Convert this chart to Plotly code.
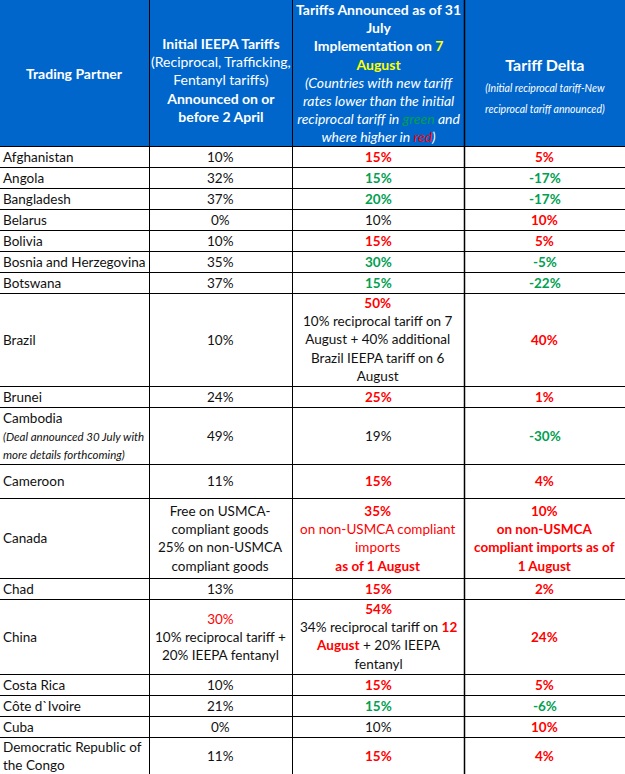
import plotly.graph_objects as go

# Colours and font
BLUE = "#0066CC"
RED = "#FF0000"
GREEN = "#00A050"
INK = "#111111"
YELLOW = "#FFFF00"
FONT = "Lato"

# Data (one entry per trading partner)
partners = [
    "Afghanistan", "Angola", "Bangladesh", "Belarus", "Bolivia",
    "Bosnia and Herzegovina", "Botswana", "Brazil", "Brunei", "Cambodia",
    "Cameroon", "Canada", "Chad", "China", "Costa Rica", "Côte d`Ivoire",
    "Cuba", "Democratic Republic of the Congo",
]
initial_tariff = ["10%", "32%", "37%", "0%", "10%", "35%", "37%", "10%", "24%",
                  "49%", "11%", None, "13%", "30%", "10%", "21%", "0%", "11%"]
new_tariff = ["15%", "15%", "20%", "10%", "15%", "30%", "15%", "50%", "25%",
              "19%", "15%", "35%", "15%", "54%", "15%", "15%", "10%", "15%"]
tariff_delta = ["5%", "-17%", "-17%", "10%", "5%", "-5%", "-22%", "40%", "1%",
                "-30%", "4%", "10%", "2%", "24%", "5%", "-6%", "10%", "4%"]

# Partners whose new tariff is printed uncoloured in the source table
uncoloured_new = {"Belarus", "Cambodia", "Cuba"}

# Extra explanatory lines
partner_lines = {
    "Cambodia": ["Cambodia", "(Deal announced 30 July with", "more details forthcoming)"],
    "Democratic Republic of the Congo": ["Democratic Republic of", "the Congo"],
}
initial_notes = {
    "Canada": ["Free on USMCA-", "compliant goods", "25% on non-USMCA", "compliant goods"],
    "China": ["10% reciprocal tariff +", "20% IEEPA fentanyl"],
}
new_notes = {
    "Brazil": ["10% reciprocal tariff on 7", "August + 40% additional",
               "Brazil IEEPA tariff on 6", "August"],
    "Canada": ["on non-USMCA compliant", "imports", "as of 1 August"],
    "China": ["34% reciprocal tariff on 12", "August + 20% IEEPA", "fentanyl"],
}
delta_notes = {"Canada": ["on non-USMCA", "compliant imports as of", "1 August"]}

# Layout
COL_W = [149, 143, 172, 161]
HEADER_H = 146
LINE_H = 14 * 1.3
ROW_MIN = 21
ROW_EXTRA = {"Cameroon": 13, "Canada": 5}
BODY_SIZE = 13.5
W, H = 625, 774


def span(text, color=None, bold=False, italic=False, size=None):
    style = []
    if color:
        style.append("color:" + color)
    if size:
        style.append("font-size:%spx" % size)
    s = "<span style='%s'>%s</span>" % (";".join(style), text) if style else text
    if bold:
        s = "<b>" + s + "</b>"
    if italic:
        s = "<i>" + s + "</i>"
    return s


def pct(s):
    return int(s.replace("%", ""))


rows = []
for i, name in enumerate(partners):
    c1 = partner_lines.get(name, [name])
    if name == "Cambodia":
        c1 = [c1[0]] + [span(t, italic=True, size=11.5) for t in c1[1:]]

    c2 = ([span(initial_tariff[i], RED if name == "China" else None)] if initial_tariff[i] else [])
    c2 += initial_notes.get(name, [])

    tone = RED if pct(tariff_delta[i]) > 0 else GREEN
    if name in uncoloured_new:
        c3 = [new_tariff[i]]
    else:
        c3 = [span(new_tariff[i], tone, bold=True)]
    for t in new_notes.get(name, []):
        if name == "Canada":
            c3.append(span(t, RED, bold=t.startswith("as of")))
        elif name == "China":
            t = t.replace("12", span("12", RED, bold=True)).replace("August", span("August", RED, bold=True))
            c3.append(t)
        else:
            c3.append(t)

    c4 = [span(t, tone, bold=True) for t in [tariff_delta[i]] + delta_notes.get(name, [])]
    rows.append((name, [c1, c2, c3, c4]))

edges = [0]
for w in COL_W:
    edges.append(edges[-1] + w)

header = [
    ["<b>Trading Partner</b>"],
    ["<b>Initial IEEPA Tariffs</b>", "(Reciprocal, Trafficking,", "Fentanyl tariffs)",
     "<b>Announced on or</b>", "<b>before 2 April</b>"],
    ["<b>Tariffs Announced as of 31</b>", "<b>July</b>",
     "<b>Implementation on " + span("7", YELLOW) + "</b>", span("August", YELLOW, bold=True),
     "<i>(Countries with new tariff</i>", "<i>rates lower than the initial</i>",
     "<i>reciprocal tariff in " + span("green", GREEN) + " and</i>",
     "<i>where higher in " + span("red", RED) + ")</i>"],
    ["<b>Tariff Delta</b>", span("(Initial reciprocal tariff-New", italic=True, size=10.5),
     span("reciprocal tariff announced)", italic=True, size=10.5)],
]
header_y = [0.50, 0.55, 0.50, 0.58]
header_size = [14, 14, 14, 16]

fig = go.Figure()
shapes, annotations = [], []

# header
shapes.append(dict(type="rect", x0=0, x1=W, y0=0, y1=HEADER_H, fillcolor=BLUE, line_width=0, layer="below"))
for c in range(4):
    annotations.append(dict(
        x=(edges[c] + edges[c + 1]) / 2, y=HEADER_H * header_y[c],
        text="<br>".join(header[c]), showarrow=False, align="center",
        xanchor="center", yanchor="middle",
        font=dict(family=FONT, size=header_size[c], color="white"),
    ))

# body
top = HEADER_H
bounds = [HEADER_H]
for name, cells in rows:
    n = max(len(cell) for cell in cells)
    h = round(max(ROW_MIN, LINE_H * n + 2) + ROW_EXTRA.get(name, 0))
    for c, cell in enumerate(cells):
        left = c == 0
        annotations.append(dict(
            x=edges[c] + 1 if left else (edges[c] + edges[c + 1]) / 2,
            y=top + h / 2,
            text="<br>".join(span(t, size=BODY_SIZE) for t in cell), showarrow=False,
            align="left" if left else "center",
            xanchor="left" if left else "center", yanchor="middle",
            font=dict(family=FONT, size=14, color=INK),
        ))
    top += h
    bounds.append(top)

# grid lines
for b in bounds:
    shapes.append(dict(type="line", x0=0, x1=W, y0=b + 0.5, y1=b + 0.5,
                       line=dict(color="black", width=1)))
for c in range(1, 4):
    shapes.append(dict(type="line", x0=edges[c] + 0.5, x1=edges[c] + 0.5, y0=0, y1=max(top, H),
                       line=dict(color="black", width=1.5 if c == 3 else 1)))

fig.update_layout(
    width=W, height=H,
    margin=dict(l=0, r=0, t=0, b=0),
    paper_bgcolor="white", plot_bgcolor="white",
    xaxis=dict(range=[0, W], visible=False, fixedrange=True),
    yaxis=dict(range=[H, 0], visible=False, fixedrange=True),
    shapes=shapes, annotations=annotations,
    showlegend=False,
)

fig.write_html("out.html", config={"displayModeBar": False},
               post_script="document.body.style.margin='0';")
